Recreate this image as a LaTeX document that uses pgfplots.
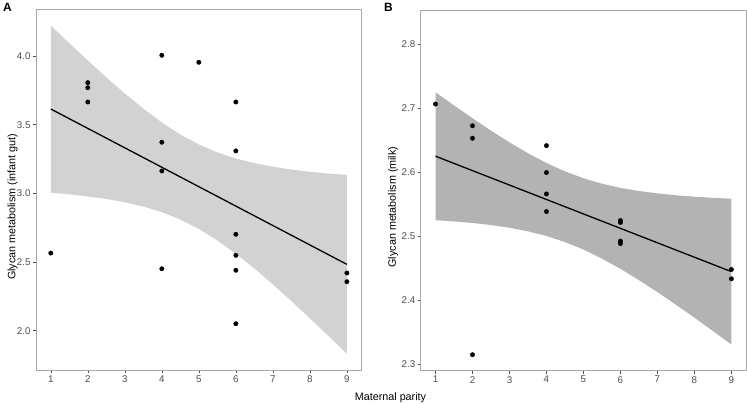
\documentclass[border=0pt]{standalone}
\usepackage{pgfplots}
\pgfplotsset{compat=1.18}
\usepackage{fontspec}
\setmainfont{Liberation Sans}
\definecolor{frameG}{HTML}{A8A8A8}
\definecolor{tickG}{HTML}{4D4D4D}
\definecolor{ribA}{HTML}{D2D2D2}
\definecolor{ribB}{HTML}{B3B3B3}
\pgfplotsset{
  panel/.style={
    scale only axis,
    anchor=south west,
    axis line style={frameG, line width=0.8bp},
    tick style={tickG, line width=0.6bp},
    tick align=outside,
    major tick length=3bp,
    xtick pos=left, ytick pos=left,
    tick label style={font=\fontsize{9.8}{11}\selectfont, text=tickG},
    /pgf/number format/assume math mode=true,
    /pgf/number format/fixed,
    /pgf/number format/fixed zerofill,
    /pgf/number format/precision=1,
    xtick={1,2,3,4,5,6,7,8,9},
    xticklabels={1,2,3,4,5,6,7,8,9},
    xmin=0.6, xmax=9.4,
    grid=none,
    xticklabel style={yshift=1bp},
    yticklabel style={xshift=1bp},
    ylabel style={font=\fontsize{10.8}{12}\selectfont, anchor=center},
  }
}
\begin{document}
\begin{tikzpicture}
\path[use as bounding box] (0,0) rectangle (747bp,404bp);

% Panel A
\begin{axis}[panel,
  at={(36bp,34bp)}, width=325.7bp, height=361bp,
  ymin=1.714, ymax=4.342,
  ytick={2.0,2.5,3.0,3.5,4.0},
  ylabel={Glycan metabolism (infant gut)},
  ylabel style={at={([xshift=-23.5bp]axis description cs:0,0.4515)}},
]
\addplot[fill=ribA, draw=none] coordinates {
(1,4.223) (1.5,4.093) (2,3.967) (2.5,3.844) (3,3.727) (3.5,3.617) (4,3.516) (4.5,3.428) (5,3.356) (5.5,3.298) (6,3.253) (6.5,3.220) (7,3.194) (7.5,3.173) (8,3.157) (8.5,3.144) (9,3.134)
(9,1.832) (8.5,1.962) (8,2.090) (7.5,2.216) (7,2.337) (6.5,2.453) (6,2.560) (5.5,2.657) (5,2.741) (4.5,2.809) (4,2.863) (3.5,2.904) (3,2.935) (2.5,2.959) (2,2.977) (1.5,2.993) (1,3.005)
} -- cycle;
\addplot[black, line width=1.3bp] coordinates {(1,3.614) (9,2.483)};
\addplot[only marks, mark=*, mark size=2.2bp, black] coordinates {
(1,2.565) (2,3.806) (2,3.769) (2,3.665) (4,4.005) (4,3.372) (4,3.163) (4,2.451)
(5,3.954) (6,3.665) (6,3.309) (6,2.702) (6,2.549) (6,2.440) (6,2.051) (9,2.420) (9,2.357)
};
\end{axis}

% Panel B
\begin{axis}[panel,
  at={(420.7bp,33.3bp)}, width=325.5bp, height=360.5bp,
  ymin=2.2895, ymax=2.8525,
  ytick={2.3,2.4,2.5,2.6,2.7,2.8},
  ylabel={Glycan metabolism (milk)},
  ylabel style={at={([xshift=-27.7bp]axis description cs:0,0.454)}},
]
\addplot[fill=ribB, draw=none] coordinates {
(1,2.7244) (1.5,2.7038) (2,2.6838) (2.5,2.6644) (3,2.6461) (3.5,2.6292) (4,2.6139) (4.5,2.6008) (5,2.5901) (5.5,2.5816) (6,2.5750) (6.5,2.5702) (7,2.5664) (7.5,2.5635) (8,2.5613) (8.5,2.5595) (9,2.5580)
(9,2.3304) (8.5,2.3515) (8,2.3723) (7.5,2.3925) (7,2.4122) (6.5,2.4310) (6,2.4486) (5.5,2.4646) (5,2.4787) (4.5,2.4904) (4,2.4999) (3.5,2.5072) (3,2.5127) (2.5,2.5170) (2,2.5202) (1.5,2.5226) (1,2.5246)
} -- cycle;
\addplot[black, line width=1.3bp] coordinates {(1,2.6245) (9,2.4442)};
\addplot[only marks, mark=*, mark size=2.2bp, black] coordinates {
(1,2.706) (2,2.672) (2,2.6525) (2,2.3145) (4,2.641) (4,2.599) (4,2.5655) (4,2.538)
(6,2.524) (6,2.521) (6,2.492) (6,2.488) (9,2.4475) (9,2.433)
};
\end{axis}

\node[font=\bfseries\fontsize{12}{14}\selectfont, anchor=north west, inner sep=0pt] at (3bp,401bp) {A};
\node[font=\bfseries\fontsize{12}{14}\selectfont, anchor=north west, inner sep=0pt] at (384bp,401bp) {B};
\node[font=\fontsize{10.8}{12}\selectfont, anchor=base] at (390.5bp,4bp) {Maternal parity};
\end{tikzpicture}
\end{document}
